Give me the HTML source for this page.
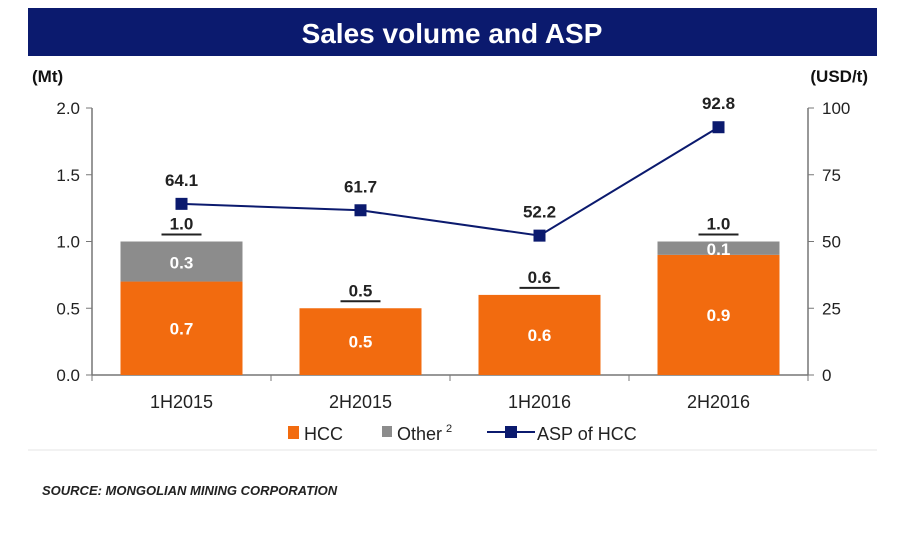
<!DOCTYPE html>
<html><head><meta charset="utf-8"><style>
body{margin:0;background:#fff;width:900px;height:531px;overflow:hidden;font-family:"Liberation Sans",sans-serif}
</style></head><body>
<svg width="900" height="531" xmlns="http://www.w3.org/2000/svg" font-family="Liberation Sans, sans-serif">
<rect x="28" y="8" width="849" height="48" fill="#0b1a6e"/>
<text x="452" y="43" text-anchor="middle" font-size="28" font-weight="bold" fill="#fff">Sales volume and ASP</text>
<text x="32" y="82" font-size="17" font-weight="bold" fill="#111">(Mt)</text>
<text x="868" y="82" text-anchor="end" font-size="17" font-weight="bold" fill="#111">(USD/t)</text>
<g id="g"></g>
<line x1="28" y1="450" x2="877" y2="450" stroke="#eee" stroke-width="1.5"/>
<text x="42" y="495" font-size="13" font-style="italic" font-weight="bold" fill="#222">SOURCE: MONGOLIAN MINING CORPORATION</text>
</svg>
<script>
const categories=["1H2015","2H2015","1H2016","2H2016"];
const hcc=[0.7,0.5,0.6,0.9];
const other=[0.3,0,0,0.1];
const asp=[64.1,61.7,52.2,92.8];
const leftTicks=["0.0","0.5","1.0","1.5","2.0"];
const rightTicks=["0","25","50","75","100"];
const NS="http://www.w3.org/2000/svg";
const g=document.getElementById('g');
const X0=92,X1=808,Y0=375,Y1=108;
const yL=v=>Y0-(v/2)*(Y0-Y1);
const yR=v=>Y0-(v/100)*(Y0-Y1);
const band=(X1-X0)/categories.length;
const xC=i=>X0+band*(i+0.5);
function mk(t,a,txt){const e=document.createElementNS(NS,t);for(const k in a)e.setAttribute(k,a[k]);if(txt!=null)e.textContent=txt;g.appendChild(e);return e;}
let e;
e=mk('line',{x1:X0,y1:Y1,x2:X0,y2:Y0,stroke:'#777','stroke-width':1.5});

e=mk('line',{x1:X1,y1:Y1,x2:X1,y2:Y0,stroke:'#777','stroke-width':1.5});

e=mk('line',{x1:X0,y1:Y0,x2:X1,y2:Y0,stroke:'#777','stroke-width':1.5});

leftTicks.forEach((t,i)=>{const y=yL(parseFloat(t));
e=mk('line',{x1:X0-6,y1:y,x2:X0,y2:y,stroke:'#777'});
e=mk('text',{x:X0-12,y:y+6,'text-anchor':'end','font-size':17,fill:'#222'},t);});
rightTicks.forEach((t,i)=>{const y=yR(parseFloat(t));
e=mk('line',{x1:X1,y1:y,x2:X1+6,y2:y,stroke:'#777'});
e=mk('text',{x:X1+14,y:y+6,'font-size':17,fill:'#222'},t);});
for(let i=0;i<=categories.length;i++){const x=X0+band*i;
e=mk('line',{x1:x,y1:Y0,x2:x,y2:Y0+6,stroke:'#777'});}
const bw=122;
categories.forEach((c,i)=>{const x=xC(i);
e=mk('rect',{x:x-bw/2,y:yL(hcc[i]),width:bw,height:Y0-yL(hcc[i]),fill:'#f26b0f'});
e=mk('text',{x:x,y:(yL(hcc[i])+Y0)/2+6,'text-anchor':'middle','font-size':17,'font-weight':'bold',fill:'#fff'},hcc[i].toFixed(1));
if(other[i]>0){const top=yL(hcc[i]+other[i]);
e=mk('rect',{x:x-bw/2,y:top,width:bw,height:yL(hcc[i])-top,fill:'#8c8c8c'});
e=mk('text',{x:x,y:(top+yL(hcc[i]))/2+7,'text-anchor':'middle','font-size':17,'font-weight':'bold',fill:'#fff'},other[i].toFixed(1));}
const tot=hcc[i]+other[i],ty=yL(tot);
e=mk('text',{x:x,y:ty-12,'text-anchor':'middle','font-size':17,'font-weight':'bold',fill:'#222'},tot.toFixed(1));
e=mk('line',{x1:x-20,y1:ty-7,x2:x+20,y2:ty-7,stroke:'#222','stroke-width':2});
e=mk('text',{x:x,y:Y0+33,'text-anchor':'middle','font-size':18,fill:'#222'},c);
});
e=mk('polyline',{points:asp.map((v,i)=>xC(i)+','+yR(v)).join(' '),fill:'none',stroke:'#0b1a6e','stroke-width':2});

asp.forEach((v,i)=>{
e=mk('rect',{x:xC(i)-6,y:yR(v)-6,width:12,height:12,fill:'#0b1a6e'});
e=mk('text',{x:xC(i),y:yR(v)-18,'text-anchor':'middle','font-size':17,'font-weight':'bold',fill:'#222'},v.toFixed(1));});
e=mk('rect',{x:288,y:426,width:11,height:13,fill:'#f26b0f'});
e=mk('text',{x:304,y:440,'font-size':18,fill:'#222'},'HCC');
e=mk('rect',{x:382,y:426,width:10,height:11,fill:'#8c8c8c'});
e=mk('text',{x:397,y:440,'font-size':18,fill:'#222'},'Other');
e=mk('text',{x:446,y:432,'font-size':11,fill:'#222'},'2');
e=mk('line',{x1:487,y1:432,x2:535,y2:432,stroke:'#0b1a6e','stroke-width':2});
e=mk('rect',{x:505,y:426,width:12,height:12,fill:'#0b1a6e'});
e=mk('text',{x:537,y:440,'font-size':18,fill:'#222'},'ASP of HCC');
</script>
</body></html>
